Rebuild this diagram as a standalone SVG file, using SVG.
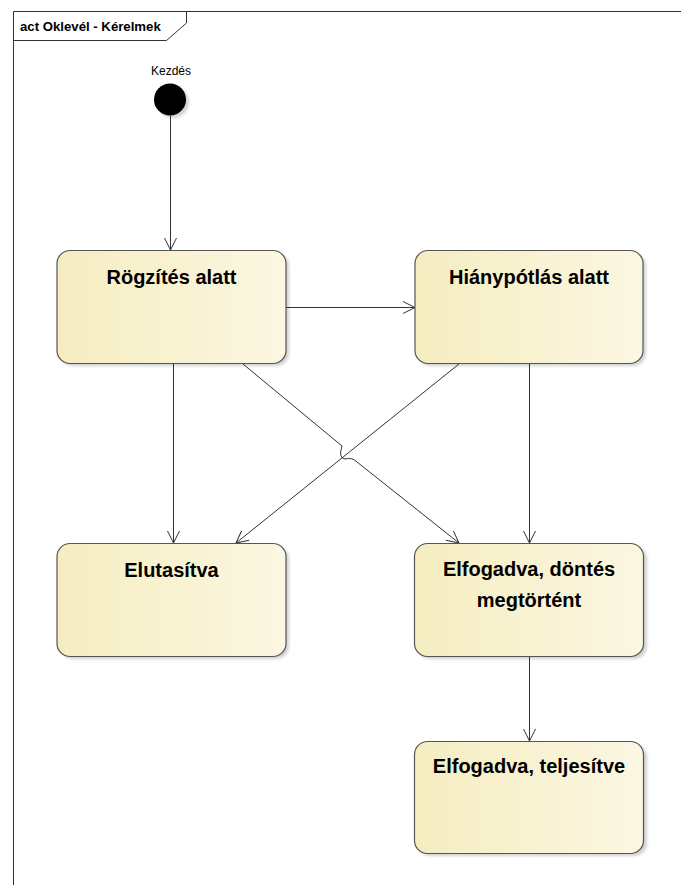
<svg xmlns="http://www.w3.org/2000/svg" width="681" height="885" viewBox="0 0 681 885">
<style>
.frame{fill:none;stroke:#333;stroke-width:1}
.node{stroke:#555;stroke-width:1.2;fill:url(#g)}
.shadow{fill:#000;opacity:0.18;filter:url(#blur)}
.lbl{font-family:"Liberation Sans",Arial,sans-serif;font-weight:bold;font-size:20px;fill:#000;text-anchor:middle}
.conn{fill:none;stroke:#333;stroke-width:1}
</style>
<defs>
<linearGradient id="g" x1="0" y1="0" x2="1" y2="0">
<stop offset="0" stop-color="#F5EDC0"/>
<stop offset="1" stop-color="#FBF7E2"/>
</linearGradient>
<filter id="blur" x="-10%" y="-10%" width="120%" height="120%"><feGaussianBlur stdDeviation="1.5"/></filter>
<marker id="arr" markerWidth="14" markerHeight="14" refX="13" refY="7" orient="auto" markerUnits="userSpaceOnUse">
<path d="M1,1 L13,7 L1,13" fill="none" stroke="#333" stroke-width="1"/>
</marker>
</defs>
<rect width="681" height="885" fill="#fff"/>
<g id="frame">
<path class="frame" d="M13.5,885 L13.5,11.5 L681,11.5"/>
<path class="frame" d="M13.5,40.5 L166.5,40.5 L186.5,23 L186.5,11.5"/>
<text x="20" y="31" font-family="Liberation Sans,Arial,sans-serif" font-weight="bold" font-size="13.2">act Oklevél - Kérelmek</text>
</g>
<g id="connectors">
<path class="conn" d="M170.5,116 L170.5,250" marker-end="url(#arr)"/>
<path class="conn" d="M286,307.5 L415,307.5" marker-end="url(#arr)"/>
<path class="conn" d="M173.5,364 L173.5,543" marker-end="url(#arr)"/>
<path class="conn" d="M529.5,364 L529.5,543" marker-end="url(#arr)"/>
<path class="conn" d="M459,364 L236,543" marker-end="url(#arr)"/>
<path class="conn" d="M243,364 L342,446 Q338,458 345,459 Q352,457 357,462 L459,543" marker-end="url(#arr)"/>
<path class="conn" d="M529.5,656 L529.5,741" marker-end="url(#arr)"/>
</g>
<g id="start">
<circle cx="173" cy="102" r="16" class="shadow"/>
<circle cx="170" cy="99.5" r="16" fill="#000"/>
<text x="171" y="75" font-family="Liberation Sans,Arial,sans-serif" font-size="12" text-anchor="middle">Kezdés</text>
</g>
<g id="rogzites">
<rect x="60" y="253" width="229" height="113" rx="13" class="shadow"/>
<rect x="57" y="250.5" width="229" height="113" rx="13" class="node"/>
<text x="171.5" y="284" class="lbl">Rögzítés alatt</text>
</g>
<g id="hianypotlas">
<rect x="418" y="253" width="228" height="113" rx="13" class="shadow"/>
<rect x="415" y="250.5" width="228" height="113" rx="13" class="node"/>
<text x="529" y="284" class="lbl">Hiánypótlás alatt</text>
</g>
<g id="elutasitva">
<rect x="60" y="546" width="229" height="113" rx="13" class="shadow"/>
<rect x="57" y="543.5" width="229" height="113" rx="13" class="node"/>
<text x="171.5" y="577" class="lbl">Elutasítva</text>
</g>
<g id="elfogadva-dontes">
<rect x="417" y="546" width="230" height="113" rx="13" class="shadow"/>
<rect x="414.5" y="543.5" width="229" height="113" rx="13" class="node"/>
<text x="529" y="576" class="lbl">Elfogadva, döntés</text>
<text x="529" y="607" class="lbl">megtörtént</text>
</g>
<g id="elfogadva-teljesitve">
<rect x="417" y="744" width="230" height="112" rx="13" class="shadow"/>
<rect x="414.5" y="741.5" width="229" height="112" rx="13" class="node"/>
<text x="529" y="773" class="lbl">Elfogadva, teljesítve</text>
</g>
</svg>
